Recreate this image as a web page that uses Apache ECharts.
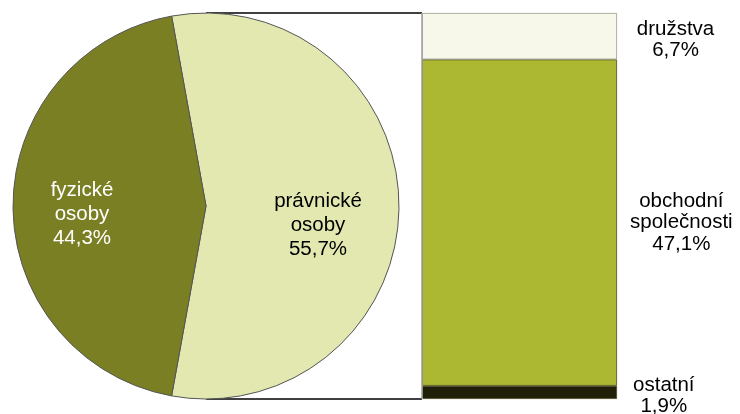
<!DOCTYPE html>
<html><head><meta charset="utf-8">
<script src="https://cdn.jsdelivr.net/npm/echarts@6/dist/echarts.min.js"></script>
<style>html,body{margin:0;padding:0;background:#fff}#c{width:740px;height:414px}</style>
</head><body><div id="c"></div>
<script>
// Data
var pieNames = ['právnické\nosoby', 'fyzické\nosoby'];
var pieValues = [55.7, 44.3];
var pieLabels = ['55,7%', '44,3%'];
var barNames = ['ostatní', 'obchodní\nspolečnosti', 'družstva'];
var barValues = [1.9, 47.1, 6.7];
var barLabels = ['1,9%', '47,1%', '6,7%'];

// Layout / style
var FONT = '"Liberation Sans", Arial, sans-serif';
var pieCenter = [206, 206], pieRadius = 193;
var gridL = 422, gridR = 123, gridT = 13, gridB = 15;
var pieColors = ['#e2e8b0', '#7b7f24'];
var pieTextColors = ['#000', '#fff'];
var labelOffset = [[112, 19], [-124, 8]];
var barColors = ['#1f1f0a', '#acb732', '#f7f8e9'];
var barLabelPos = [['124%', '77%'], ['133%', '50%'], ['130%', '58%']];

var total = pieValues[0];
var startAng = (pieValues[0] / (pieValues[0] + pieValues[1])) * 180;

var chart = echarts.init(document.getElementById('c'));
var series = [{
  type: 'pie',
  center: pieCenter,
  radius: pieRadius,
  startAngle: startAng,
  clockwise: true,
  animation: false,
  silent: true,
  itemStyle: { borderColor: '#555', borderWidth: 1 },
  label: {
    position: 'inside', fontFamily: FONT, fontSize: 20.5, lineHeight: 24, align: 'center',
    formatter: function (p) { return p.name + '\n' + pieLabels[p.dataIndex]; }
  },
  labelLayout: function (p) {
    return { x: pieCenter[0] + labelOffset[p.dataIndex][0], y: pieCenter[1] + labelOffset[p.dataIndex][1], align: 'center', verticalAlign: 'middle' };
  },
  data: pieValues.map(function (v, i) {
    return { name: pieNames[i], value: v, itemStyle: { color: pieColors[i] }, label: { color: pieTextColors[i] } };
  })
}];
barValues.forEach(function (v, i) {
  series.push({
    type: 'bar', stack: 'b', name: barNames[i], barWidth: '100%', animation: false, silent: true,
    itemStyle: { color: barColors[i], borderColor: i === 2 ? '#9a9a8a' : '#4a4a20', borderWidth: 0.8 },
    label: {
      show: true, position: barLabelPos[i], align: 'center', verticalAlign: 'middle',
      fontFamily: FONT, fontSize: 20.5, lineHeight: 21.5, color: '#000',
      formatter: barNames[i] + '\n' + barLabels[i]
    },
    data: [v]
  });
});

chart.setOption({
  backgroundColor: '#fff',
  grid: { left: gridL, right: gridR, top: gridT, bottom: gridB },
  xAxis: { type: 'category', data: ['a'], show: false },
  yAxis: { type: 'value', min: 0, max: total, show: false },
  series: series
});

var yTop = chart.convertToPixel({ yAxisIndex: 0 }, total);
var yBot = chart.convertToPixel({ yAxisIndex: 0 }, 0);
chart.setOption({
  graphic: [
    { type: 'line', shape: { x1: pieCenter[0], y1: pieCenter[1] - pieRadius, x2: gridL, y2: yTop }, style: { stroke: '#000', lineWidth: 1.3 } },
    { type: 'line', shape: { x1: pieCenter[0], y1: pieCenter[1] + pieRadius, x2: gridL, y2: yBot }, style: { stroke: '#000', lineWidth: 1.3 } },
    { type: 'line', shape: { x1: gridL, y1: yTop, x2: gridL, y2: yBot }, style: { stroke: '#a0a0a0', lineWidth: 1.5 }, z: 10 }
  ]
});
</script></body></html>
